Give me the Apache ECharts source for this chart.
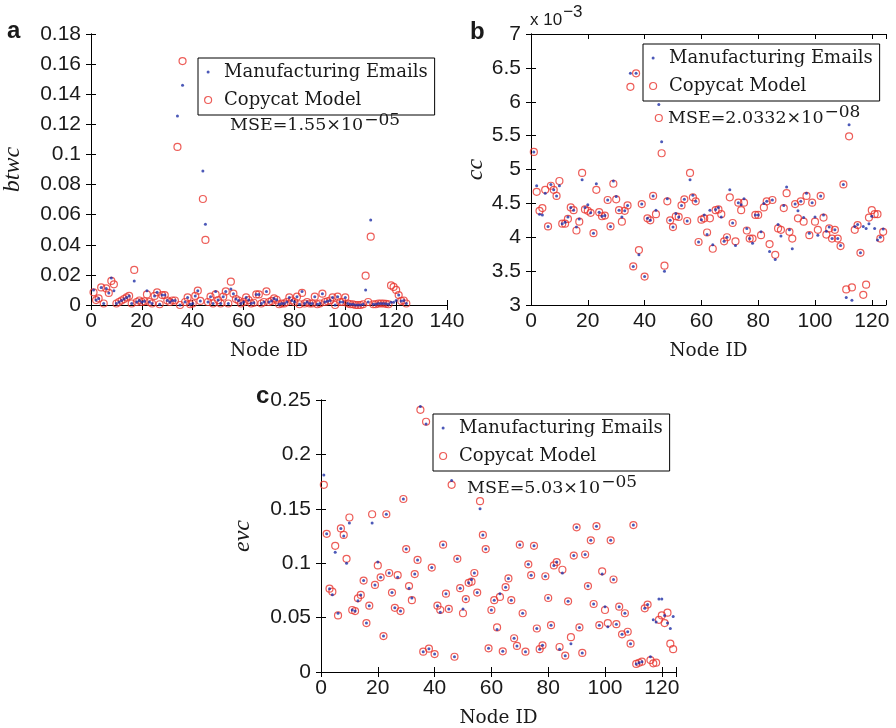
<!DOCTYPE html>
<html>
<head>
<meta charset="utf-8">
<title>btwc / cc / evc</title>
<script src="https://cdn.jsdelivr.net/npm/echarts@6/dist/echarts.min.js"></script>
<style>
  html, body { margin: 0; padding: 0; background: #fff; }
  #chart { width: 896px; height: 728px; }
</style>
</head>
<body>
<div id="chart"></div>
<script>
// a: betweenness centrality
const btwcReal = [0.010, 0.0033, 0.0044, 0.0117, 0.001, 0.011, 0.008, 0.018, 0.0095, 0.001,
  0.002, 0.003, 0.004, 0.005, 0.006, 0.001, 0.016, 0.002, 0.003, 0.002,
  0.0025, 0.0095, 0.002, 0.001, 0.006, 0.0084, 0.0005, 0.0066, 0.0066, 0.003,
  0.002, 0.003, 0.003, 0.1256, 0.0, 0.146, 0.002, 0.005, 0.0005, 0.001,
  0.006, 0.0095, 0.0027, 0.089, 0.0536, 0.002, 0.0055, 0.001, 0.009, 0.0033,
  0.001, 0.0055, 0.009, 0.001, 0.0106, 0.0075, 0.004, 0.003, 0.001, 0.002,
  0.005, 0.0033, 0.001, 0.0015, 0.007, 0.007, 0.001, 0.002, 0.009, 0.002,
  0.0027, 0.0044, 0.0035, 0.0005, 0.001, 0.001, 0.002, 0.005, 0.003, 0.002,
  0.0055, 0.0005, 0.009, 0.001, 0.002, 0.001, 0.001, 0.0055, 0.0005, 0.001,
  0.0075, 0.002, 0.0025, 0.003, 0.005, 0.0, 0.0055, 0.002, 0.002, 0.005,
  0.001, 0.0005, 0.0005, 0.0, 0.0, 0.0, 0.0005, 0.010, 0.002, 0.0565,
  0.0005, 0.0005, 0.001, 0.001, 0.001, 0.0008, 0.0005, 0.0018, 0.0018, 0.003,
  0.0066, 0.0027, 0.003, 0.001]
const btwcModel = [0.0084, 0.0033, 0.0044, 0.0117, 0.001, 0.011, 0.008, 0.016, 0.0137, 0.001,
  0.002, 0.003, 0.004, 0.005, 0.006, 0.001, 0.0233, 0.002, 0.003, 0.002,
  0.0025, 0.007, 0.002, 0.001, 0.006, 0.0084, 0.0005, 0.0066, 0.0066, 0.003,
  0.002, 0.003, 0.003, 0.105, 0.0, 0.162, 0.002, 0.005, 0.0005, 0.001,
  0.006, 0.0095, 0.0027, 0.0704, 0.0432, 0.002, 0.0055, 0.001, 0.007, 0.0033,
  0.001, 0.0055, 0.009, 0.001, 0.0155, 0.0075, 0.004, 0.003, 0.001, 0.002,
  0.005, 0.0033, 0.001, 0.0015, 0.007, 0.007, 0.001, 0.002, 0.009, 0.002,
  0.0027, 0.0044, 0.0035, 0.0005, 0.001, 0.001, 0.002, 0.005, 0.003, 0.002,
  0.0055, 0.0005, 0.008, 0.001, 0.002, 0.001, 0.001, 0.0055, 0.0005, 0.001,
  0.0075, 0.002, 0.0025, 0.003, 0.005, 0.0, 0.0055, 0.002, 0.002, 0.005,
  0.001, 0.0005, 0.0005, 0.0, 0.0, 0.0, 0.0005, 0.0195, 0.002, 0.0454,
  0.0005, 0.0005, 0.001, 0.001, 0.001, 0.0008, 0.0005, 0.013, 0.012, 0.01,
  0.0066, 0.0027, 0.003, 0.001]

// b: closeness centrality, in units of 10^-3
const ccReal = [5.26, 4.76, 4.34, 4.33, 4.65, 4.16, 4.78, 4.70, 4.61, 4.76,
  4.20, 4.22, 4.30, 4.44, 4.40, 4.15, 4.27, 4.85, 4.44, 4.48,
  4.36, 4.06, 4.79, 4.37, 4.31, 4.32, 4.55, 4.16, 4.83, 4.60,
  4.40, 4.30, 4.39, 4.47, 6.42, 3.57, 6.42, 3.74, 4.49, 3.42,
  4.28, 4.25, 4.61, 4.40, 5.96, 5.41, 3.50, 4.57, 4.25, 4.15,
  4.35, 4.30, 4.47, 4.56, 4.24, 4.85, 4.62, 4.53, 3.93, 4.26,
  4.33, 4.04, 4.40, 3.89, 4.41, 4.44, 4.30, 3.94, 4.00, 4.70,
  4.21, 3.88, 4.51, 4.48, 4.57, 4.13, 3.98, 3.91, 4.33, 4.33,
  4.08, 4.50, 4.53, 3.79, 4.55, 3.67, 4.19, 4.02, 4.47, 4.74,
  4.11, 3.83, 4.49, 4.39, 4.53, 4.29, 4.65, 4.06, 4.51, 4.30,
  4.03, 4.61, 4.33, 4.09, 4.15, 3.98, 4.11, 3.98, 3.88, 4.78,
  3.11, 5.66, 3.07, 4.16, 4.19, 3.77, 4.16, 4.13, 4.20, 4.31,
  4.13, 3.96, 4.00, 4.12]
const ccModel = [5.26, 4.67, 4.39, 4.43, 4.70, 4.16, 4.76, 4.70, 4.61, 4.83,
  4.20, 4.20, 4.27, 4.44, 4.40, 4.10, 4.23, 4.95, 4.41, 4.39,
  4.36, 4.06, 4.70, 4.37, 4.31, 4.32, 4.55, 4.16, 4.79, 4.56,
  4.40, 4.23, 4.39, 4.47, 6.22, 3.57, 6.42, 3.81, 4.49, 3.42,
  4.28, 4.25, 4.61, 4.34, 5.76, 5.24, 3.58, 4.53, 4.25, 4.15,
  4.31, 4.30, 4.47, 4.56, 4.24, 4.95, 4.59, 4.53, 3.93, 4.26,
  4.28, 4.07, 4.28, 3.83, 4.40, 4.41, 4.34, 3.94, 4.00, 4.59,
  4.21, 3.94, 4.51, 4.40, 4.51, 4.10, 3.98, 3.98, 4.33, 4.33,
  4.03, 4.44, 4.53, 3.90, 4.55, 3.74, 4.13, 4.11, 4.43, 4.65,
  4.08, 3.98, 4.49, 4.28, 4.53, 4.23, 4.61, 4.03, 4.51, 4.23,
  4.11, 4.61, 4.29, 4.04, 4.13, 3.98, 4.11, 3.98, 3.87, 4.78,
  3.23, 5.49, 3.26, 4.11, 4.18, 3.77, 3.15, 3.30, 4.29, 4.40,
  4.34, 4.34, 3.98, 4.08]

// c: eigenvector centrality
const evcReal = [0.181, 0.127, 0.0766, 0.071, 0.110, 0.054, 0.132, 0.125, 0.100, 0.137,
  0.057, 0.056, 0.0655, 0.0708, 0.084, 0.045, 0.061, 0.137, 0.080, 0.101,
  0.087, 0.033, 0.145, 0.091, 0.073, 0.059, 0.087, 0.056, 0.159, 0.113,
  0.077, 0.068, 0.090, 0.103, 0.244, 0.0187, 0.228, 0.0214, 0.096, 0.0165,
  0.061, 0.055, 0.117, 0.072, 0.058, 0.176, 0.014, 0.104, 0.077, 0.058,
  0.067, 0.082, 0.085, 0.091, 0.073, 0.150, 0.126, 0.113, 0.0218, 0.057,
  0.066, 0.039, 0.072, 0.019, 0.078, 0.086, 0.066, 0.031, 0.024, 0.117,
  0.054, 0.0187, 0.099, 0.089, 0.116, 0.040, 0.021, 0.0245, 0.088, 0.068,
  0.043, 0.098, 0.101, 0.021, 0.091, 0.015, 0.065, 0.026, 0.107, 0.133,
  0.041, 0.0175, 0.108, 0.079, 0.121, 0.0625, 0.134, 0.043, 0.090, 0.060,
  0.0415, 0.121, 0.085, 0.044, 0.060, 0.0346, 0.054, 0.037, 0.026, 0.135,
  0.0074, 0.0085, 0.0095, 0.0585, 0.062, 0.014, 0.048, 0.046, 0.067, 0.067,
  0.052, 0.045, 0.040, 0.051]
const evcModel = [0.172, 0.127, 0.0766, 0.0738, 0.116, 0.052, 0.132, 0.126, 0.104, 0.142,
  0.057, 0.056, 0.0677, 0.0708, 0.084, 0.045, 0.061, 0.145, 0.080, 0.098,
  0.087, 0.033, 0.145, 0.091, 0.073, 0.059, 0.089, 0.056, 0.159, 0.113,
  0.079, 0.066, 0.090, 0.103, 0.241, 0.0187, 0.230, 0.0214, 0.096, 0.0165,
  0.061, 0.057, 0.117, 0.072, 0.058, 0.172, 0.014, 0.104, 0.077, 0.054,
  0.067, 0.082, 0.083, 0.091, 0.073, 0.157, 0.126, 0.113, 0.0218, 0.057,
  0.066, 0.041, 0.069, 0.019, 0.078, 0.086, 0.066, 0.031, 0.024, 0.117,
  0.054, 0.0187, 0.099, 0.089, 0.116, 0.040, 0.021, 0.0245, 0.088, 0.068,
  0.043, 0.098, 0.101, 0.023, 0.094, 0.015, 0.065, 0.032, 0.107, 0.133,
  0.041, 0.0175, 0.108, 0.079, 0.121, 0.0625, 0.134, 0.043, 0.0925, 0.057,
  0.045, 0.121, 0.085, 0.044, 0.060, 0.0346, 0.054, 0.037, 0.026, 0.135,
  0.0074, 0.0085, 0.0095, 0.0585, 0.062, 0.011, 0.008, 0.0086, 0.048, 0.052,
  0.045, 0.0545, 0.026, 0.021]

const seriesNames = ['Manufacturing Emails', 'Copycat Model']
const yNames = ['btwc', 'cc', 'evc']
const panelLetters = ['a', 'b', 'c']
const mseTexts = ['MSE=1.55×10', 'MSE=2.0332×10', 'MSE=5.03×10']
const mseExps = ['−05', '−08', '−05']

const BLUE = '#1f2fa6'
const RED = '#e8342e'
const TEXT = '#1a1a1a'
const SANS = '"Liberation Sans", Arial, sans-serif'
const SERIF = '"DejaVu Serif", serif'
const ISERIF = '"Liberation Serif", "Times New Roman", serif'

const grids = [
  { left: 91, top: 34, width: 356, height: 271 },
  { left: 531, top: 34, width: 355, height: 271 },
  { left: 321, top: 400, width: 355, height: 272 }
]
const xRanges = [[0, 140], [0, 125], [0, 125]]
const yRanges = [[0, 0.18, 0.02], [3, 7, 0.5], [0, 0.25, 0.05]]

const toXY = arr => arr.map((v, i) => [i + 1, v])

// text width, used to put the exponents right after their base
const measureCtx = document.createElement('canvas').getContext('2d')
function textWidth(text, font) {
  measureCtx.font = font
  return measureCtx.measureText(text).width
}

const chart = echarts.init(document.getElementById('chart'), null, { renderer: 'canvas' })

const xAxis = []
const yAxis = []
// bottom / left axes with labels
grids.forEach((g, i) => {
  xAxis.push({
    type: 'value',
    gridIndex: i,
    position: 'bottom',
    min: xRanges[i][0],
    max: xRanges[i][1],
    interval: 20,
    name: 'Node ID',
    nameLocation: 'middle',
    nameGap: 37,
    nameTextStyle: { fontFamily: SERIF, fontSize: 18.5, color: TEXT },
    axisLine: { show: true, lineStyle: { color: '#000', width: 1 } },
    axisTick: { show: true, inside: true, length: 5, lineStyle: { color: '#000' } },
    axisLabel: {
      show: true,
      margin: 6,
      fontFamily: SANS,
      fontSize: 21,
      color: TEXT,
      formatter: v => (v % 20 === 0 ? String(v) : '')
    },
    splitLine: { show: false }
  })
  yAxis.push({
    type: 'value',
    gridIndex: i,
    position: 'left',
    min: yRanges[i][0],
    max: yRanges[i][1],
    interval: yRanges[i][2],
    name: yNames[i],
    nameLocation: 'middle',
    nameGap: i === 1 ? 42 : 66,
    nameRotate: 90,
    nameTextStyle: { fontFamily: ISERIF, fontStyle: 'italic', fontSize: 24, color: TEXT },
    axisLine: { show: true, lineStyle: { color: '#000', width: 1 } },
    axisTick: { show: true, inside: true, length: 5, lineStyle: { color: '#000' } },
    axisLabel: { show: true, margin: 10, fontFamily: SANS, fontSize: 21, color: TEXT },
    splitLine: { show: false }
  })
})
// top / right axes, only for the box and its ticks
grids.forEach((g, i) => {
  xAxis.push({
    type: 'value',
    gridIndex: i,
    position: 'top',
    min: xRanges[i][0],
    max: xRanges[i][1],
    interval: 20,
    axisLine: { show: true, lineStyle: { color: '#000', width: 1 } },
    axisTick: { show: true, inside: true, length: 5, lineStyle: { color: '#000' } },
    axisLabel: { show: false },
    splitLine: { show: false }
  })
  yAxis.push({
    type: 'value',
    gridIndex: i,
    position: 'right',
    min: yRanges[i][0],
    max: yRanges[i][1],
    interval: yRanges[i][2],
    axisLine: { show: true, lineStyle: { color: '#000', width: 1 } },
    axisTick: { show: true, inside: true, length: 5, lineStyle: { color: '#000' } },
    axisLabel: { show: false },
    splitLine: { show: false }
  })
})

const realData = [btwcReal, ccReal, evcReal]
const modelData = [btwcModel, ccModel, evcModel]
const series = []
for (let i = 0; i < 3; i++) {
  series.push({
    name: seriesNames[0],
    type: 'scatter',
    xAxisIndex: i,
    yAxisIndex: i,
    symbol: 'circle',
    symbolSize: 3,
    itemStyle: { color: BLUE },
    z: 3,
    data: toXY(realData[i])
  })
  series.push({
    name: seriesNames[1],
    type: 'scatter',
    xAxisIndex: i,
    yAxisIndex: i,
    symbol: 'circle',
    symbolSize: 7,
    itemStyle: { color: 'rgba(0,0,0,0)', borderColor: RED, borderWidth: 1.2 },
    z: 2,
    data: toXY(modelData[i])
  })
}

// legend boxes, one per panel
const dotIcon = 'path://M0,0 M7,7 M2,3.5 A1.5,1.5 0 1,1 5,3.5 A1.5,1.5 0 1,1 2,3.5 Z'
const legendPos = [[198, 58], [643, 44], [433, 414]]
const legend = legendPos.map(p => ({
  left: p[0],
  top: p[1],
  orient: 'vertical',
  selectedMode: false,
  backgroundColor: '#fff',
  borderColor: '#000',
  borderWidth: 1,
  borderRadius: 0,
  padding: [2, 7, 3, 6],
  itemGap: 4,
  itemWidth: 22,
  itemHeight: 7,
  textStyle: { fontFamily: SERIF, fontSize: 18, lineHeight: 24, color: TEXT },
  data: [
    { name: seriesNames[0], icon: dotIcon, itemStyle: { color: BLUE, borderWidth: 0 } },
    { name: seriesNames[1], icon: 'circle', itemStyle: { color: 'rgba(0,0,0,0)', borderColor: RED, borderWidth: 1.2 } }
  ]
}))

// texts: panel letters, MSE notes, x10^-3   (x, baseline)
const letterPos = [[7, 40], [470, 41], [256, 405]]
const msePos = [[230, 132, 127], [668, 125, 119], [467, 495, 489]]
const graphic = []
function txt(x, baseline, text, size, family, weight) {
  const font = (weight ? weight + ' ' : '') + size + 'px ' + family
  graphic.push({
    type: 'text',
    x: x,
    y: baseline - 0.36 * size,
    z: 100,
    style: { text: text, font: font, fill: TEXT, align: 'left', verticalAlign: 'middle', textAlign: 'left', textVerticalAlign: 'middle' }
  })
  return textWidth(text, font)
}
letterPos.forEach((p, i) => txt(p[0], p[1], panelLetters[i], 24, SANS, 'bold'))
msePos.forEach((p, i) => {
  const w = txt(p[0], p[1], mseTexts[i], 17.5, SERIF)
  txt(p[0] + w + 1, p[2], mseExps[i], 17, SERIF)
})
const w10 = txt(530, 26, 'x 10', 17, SANS)
txt(530 + w10 + 1, 18, '−3', 17, SANS)

chart.setOption({
  backgroundColor: '#fff',
  animation: false,
  grid: grids.map(g => Object.assign({ containLabel: false, outerBoundsMode: 'none', show: false }, g)),
  xAxis: xAxis,
  yAxis: yAxis,
  legend: legend,
  tooltip: { show: false },
  graphic: graphic,
  series: series
})
</script>
</body>
</html>
